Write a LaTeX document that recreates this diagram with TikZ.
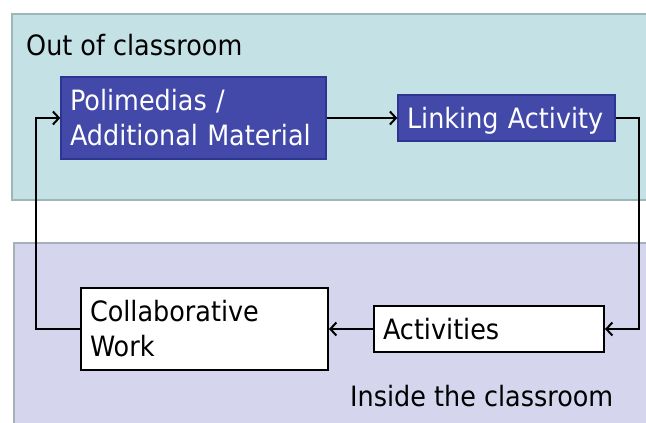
\documentclass[tikz,border=0pt]{standalone}
\usepackage{fontspec}
\setmainfont{DejaVu Sans}[FakeStretch=0.91]
\usetikzlibrary{arrows.meta}

\definecolor{outfill}{HTML}{C4E2E5}
\definecolor{outline}{HTML}{9DB7B8}
\definecolor{infill}{HTML}{D5D6EE}
\definecolor{inline}{HTML}{A5B1B8}
\definecolor{darkbox}{HTML}{4249A8}
\definecolor{darkline}{HTML}{2E3590}

\tikzset{
  lbl/.style={font=\fontsize{28}{34}\selectfont, inner sep=0pt, anchor=base west},
  stagebox/.style={font=\fontsize{28}{35}\selectfont, align=left,
    inner xsep=9pt, inner ysep=0pt, anchor=center},
  onlinebox/.style={stagebox, fill=darkbox, draw=darkline, line width=1.4pt, text=white},
  classbox/.style={stagebox, fill=white, draw=black, line width=2pt, text=black},
  flow/.style={draw=black, line width=2.2pt,
    -{Straight Barb[length=6pt,width=13pt,line width=2pt]}},
}

\begin{document}
\begin{tikzpicture}[x=1pt,y=-1pt]
  \useasboundingbox (0,0) rectangle (646,423);
  \clip (0,0) rectangle (646,423);

  % the two zones
  \draw[fill=outfill, draw=outline, line width=2.2pt] (12,14) rectangle (680,200);
  \draw[fill=infill, draw=inline, line width=2.2pt] (14,243) rectangle (680,460);

  \node[lbl] (outlbl) at (26,56) {Out of classroom};
  \node[lbl] (inlbl) at (350,406) {Inside the classroom};

  % stages
  \node[onlinebox, minimum width=265pt, minimum height=82pt, text width=247pt]
    (poli) at (193.5,118) {Polimedias /\\Additional Material};
  \node[onlinebox, minimum width=217pt, minimum height=46pt, text width=199pt,
        text depth=0pt]
    (link) at (506.5,118) {Linking Activity};
  \node[classbox, minimum width=247pt, minimum height=82pt, text width=229pt]
    (collab) at (204.5,329) {Collaborative\\Work};
  \node[classbox, minimum width=230pt, minimum height=46pt, text width=212pt]
    (act) at (489,329) {Activities};

  % cycle
  \draw[flow] (poli.east) -- (link.west);
  \draw[flow] (link.east) -- ++(23,0) |- (act.east);
  \draw[flow] (act.west) -- (collab.east);
  \draw[flow] (collab.west) -- ++(-44,0) |- (poli.west);
\end{tikzpicture}
\end{document}
